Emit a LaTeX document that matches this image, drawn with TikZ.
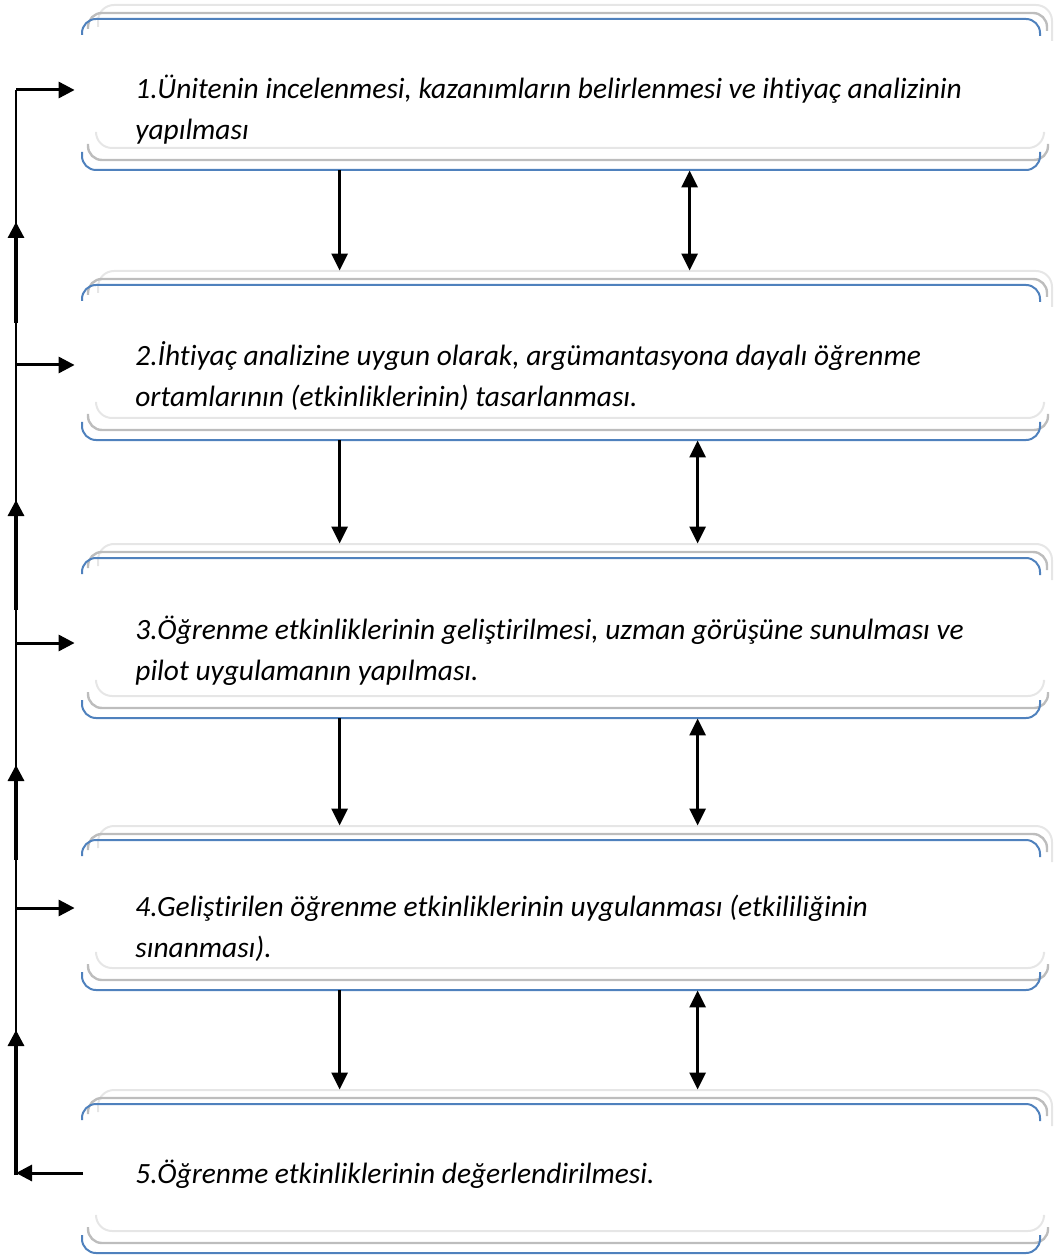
\documentclass[tikz,border=0pt]{standalone}
\usepackage{fontspec}
\setmainfont{Carlito}[Ligatures=NoCommon]
\usetikzlibrary{arrows.meta,calc,fit}

\definecolor{frameblue}{HTML}{4F81BD}
\definecolor{framegray}{HTML}{BDBDBD}
\definecolor{framelight}{HTML}{E6E6E6}

\tikzset{
  blueedge/.style={draw=frameblue,line width=1pt,rounded corners=7pt},
  grayedge/.style={draw=framegray,line width=1.2pt,rounded corners=7pt},
  lightedge/.style={draw=framelight,line width=1pt,rounded corners=8pt},
  stagetext/.style={anchor=base west,inner sep=0pt,font=\fontsize{14.7}{20.5}\selectfont\itshape},
  flow/.style={line width=1.4pt,-{Triangle[length=8.5pt,width=8pt]}},
  twoway/.style={line width=1.4pt,{Triangle[length=8.5pt,width=8pt]}-{Triangle[length=8.5pt,width=8pt]}},
  spine/.style={line width=0.8pt},
  spinearrow/.style={line width=1.6pt,-{Triangle[length=8pt,width=8pt]}},
  sidearrow/.style={line width=1.5pt,-{Triangle[length=8pt,width=8pt]}},
  boxarea/.style={inner sep=0pt,draw=none}
}

% one stage frame: top and bottom brackets with two grey echoes
\newcommand\stageframe[2]{%
  \draw[lightedge] (98,#1+8) -- (98,#1-14) -- (1052,#1-14) -- (1052,#1+22);
  \draw[grayedge] (88,#1+10) -- (88,#1-6) -- (1047,#1-6) -- (1047,#1+12);
  \draw[blueedge] (82,#1+16) -- (82,#1) -- (1040,#1) -- (1040,#1+17);
  \draw[lightedge] (96,#2-36) -- (96,#2-22) -- (1044,#2-22) -- (1044,#2-36);
  \draw[grayedge] (88,#2-26) -- (88,#2-10) -- (1048,#2-10) -- (1048,#2-26);
  \draw[blueedge] (82,#2-18) -- (82,#2) -- (1040,#2) -- (1040,#2-18);
}

\begin{document}
\begin{tikzpicture}[x=0.5pt,y=-0.5pt]
\useasboundingbox (0,0) rectangle (1054,1256);

% frames and their named areas
\foreach \t/\b/\n in {19/170/b1,285/440/b2,558/718/b3,840/990/b4,1104/1253/b5}{
  \stageframe{\t}{\b}
  \node[boxarea,fit={(82,\t-14) (1040,\b)}] (\n) {};
}

% stage texts
\node[stagetext] (t1a) at (135,99) {1.Ünitenin incelenmesi, kazanımların belirlenmesi ve ihtiyaç analizinin};
\node[stagetext] (t1b) at (135,140) {yapılması};
\node[stagetext] (t2a) at (135,366) {2.İhtiyaç analizine uygun olarak, argümantasyona dayalı öğrenme};
\node[stagetext] (t2b) at (135,407) {ortamlarının (etkinliklerinin) tasarlanması.};
\node[stagetext] (t3a) at (135,639) {3.Öğrenme etkinliklerinin geliştirilmesi, uzman görüşüne sunulması ve};
\node[stagetext] (t3b) at (135,680) {pilot uygulamanın yapılması.};
\node[stagetext] (t4a) at (135,916) {4.Geliştirilen öğrenme etkinliklerinin uygulanması (etkililiğinin};
\node[stagetext] (t4b) at (135,957) {sınanması).};
\node[stagetext] (t5a) at (135,1183) {5.Öğrenme etkinliklerinin değerlendirilmesi.};

% connectors between consecutive stages
\draw[flow] ($(b1.south west)+(258,0)$) -- ($(b2.north west)+(258,0)$);
\draw[twoway] ($(b1.south west)+(608,0)$) -- ($(b2.north west)+(608,0)$);
\draw[flow] ($(b2.south west)+(258,0)$) -- ($(b3.north west)+(258,0)$);
\draw[twoway] ($(b2.south west)+(616,0)$) -- ($(b3.north west)+(616,0)$);
\draw[flow] ($(b3.south west)+(258,0)$) -- ($(b4.north west)+(258,0)$);
\draw[twoway] ($(b3.south west)+(616,0)$) -- ($(b4.north west)+(616,0)$);
\draw[flow] ($(b4.south west)+(258,0)$) -- ($(b5.north west)+(258,0)$);
\draw[twoway] ($(b4.south west)+(616,0)$) -- ($(b5.north west)+(616,0)$);

% feedback spine on the left
\coordinate (s1) at (16,90);
\coordinate (s2) at (16,365);
\coordinate (s3) at (16,643);
\coordinate (s4) at (16,908);
\coordinate (s5) at (16,1175);
\coordinate (e5) at (83,1173);
\coordinate (u1a) at (16,323); \coordinate (u1b) at (16,222);
\coordinate (u2a) at (16,610); \coordinate (u2b) at (16,500);
\coordinate (u3a) at (16,860); \coordinate (u3b) at (16,765);
\coordinate (u4a) at (16,1175); \coordinate (u4b) at (16,1030);

\draw[spine] (s5) -- (s1);
\draw[spinearrow] (u1a) -- (u1b);
\draw[spinearrow] (u2a) -- (u2b);
\draw[spinearrow] (u3a) -- (u3b);
\draw[spinearrow] (u4a) -- (u4b);

\draw[sidearrow,shorten >=3.5pt] (s1) -- (s1 -| b1.west);
\draw[sidearrow,shorten >=3.5pt] (s2) -- (s2 -| b2.west);
\draw[sidearrow,shorten >=3.5pt] (s3) -- (s3 -| b3.west);
\draw[sidearrow,shorten >=3.5pt] (s4) -- (s4 -| b4.west);
\draw[sidearrow] (e5) -- (e5 -| s5);
\end{tikzpicture}
\end{document}
